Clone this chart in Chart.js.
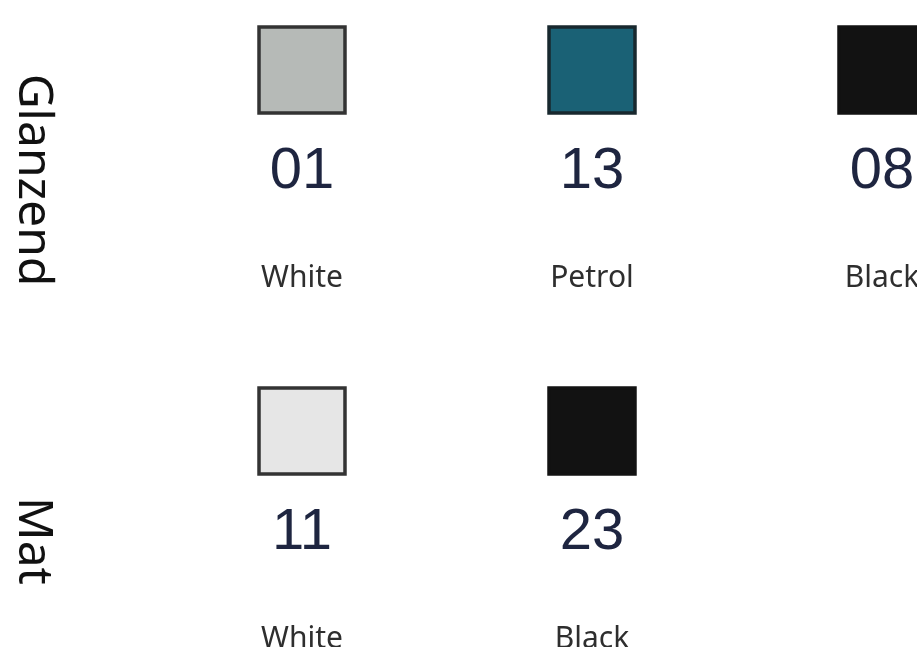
<!DOCTYPE html>
<html>
<head>
<meta charset="utf-8">
<script src="https://cdn.jsdelivr.net/npm/chart.js@4"></script>
<style>
  html, body { margin: 0; padding: 0; background: #fff; }
  #wrap { width: 917px; height: 647px; position: relative; }
</style>
</head>
<body>
<div id="wrap"><canvas id="chart"></canvas></div>
<script>
// swatches (reading order: first row left to right, then second row)
const finishes = ["Glanzend", "Mat"];
const codes = ["01", "13", "08", "11", "23"];
const colourNames = ["White", "Petrol", "Black", "White", "Black"];
const finishOf = ["Glanzend", "Glanzend", "Glanzend", "Mat", "Mat"];
const columnOf = [1, 2, 3, 1, 2];
const swatchColours = ["#b6bab7", "#1a6175", "#121212", "#e6e6e6", "#121212"];
const swatchEdges = ["#333333", "#18282e", "#121212", "#333333", "#121212"];

const punkte = codes.map((c, i) => ({ x: columnOf[i], y: finishes.indexOf(finishOf[i]) }));

// texte unter den feldern und links die zeilennamen
const beschriftung = {
    id: "beschriftung",
    afterDatasetsDraw(chart) {
        const ctx = chart.ctx;
        const meta = chart.getDatasetMeta(0);
        const yScale = chart.scales.y;
        ctx.save();
        ctx.textAlign = "center";
        ctx.textBaseline = "alphabetic";
        meta.data.forEach((pt, i) => {
            ctx.fillStyle = "#1e2540";
            ctx.font = "58px 'Liberation Sans', Arial, sans-serif";
            ctx.fillText(codes[i], pt.x, pt.y + 118);
            ctx.fillStyle = "#2e2e2e";
            ctx.font = "30px 'Noto Sans', 'Open Sans', sans-serif";
            ctx.fillText(colourNames[i], pt.x, pt.y + 217);
        });
        finishes.forEach((f, r) => {
            const cy = yScale.getPixelForValue(r) + 110;
            ctx.save();
            ctx.translate(19, cy);
            ctx.rotate(Math.PI / 2);
            ctx.fillStyle = "#111";
            ctx.font = "48px 'Noto Sans', 'Open Sans', sans-serif";
            ctx.fillText(f, 0, 0);
            ctx.restore();
        });
        ctx.restore();
    }
};

new Chart(document.getElementById("chart").getContext("2d"), {
    type: "scatter",
    data: {
        datasets: [{
            label: "Farben",
            data: punkte,
            pointStyle: "rect",
            pointRadius: 60.8,
            pointHoverRadius: 60.8,
            pointBorderWidth: 3.5,
            backgroundColor: swatchColours,
            borderColor: swatchEdges,
            clip: false
        }]
    },
    plugins: [beschriftung],
    options: {
        responsive: true,
        maintainAspectRatio: false,
        animation: false,
        layout: { padding: 0, autoPadding: false },
        plugins: {
            legend: { display: false },
            tooltip: { enabled: false }
        },
        scales: {
            x: { type: "linear", min: -0.04138, max: 3.1207, display: false },
            y: { type: "linear", reverse: true, min: -0.1939, max: 1.5983, display: false }
        }
    }
});
</script>
</body>
</html>
